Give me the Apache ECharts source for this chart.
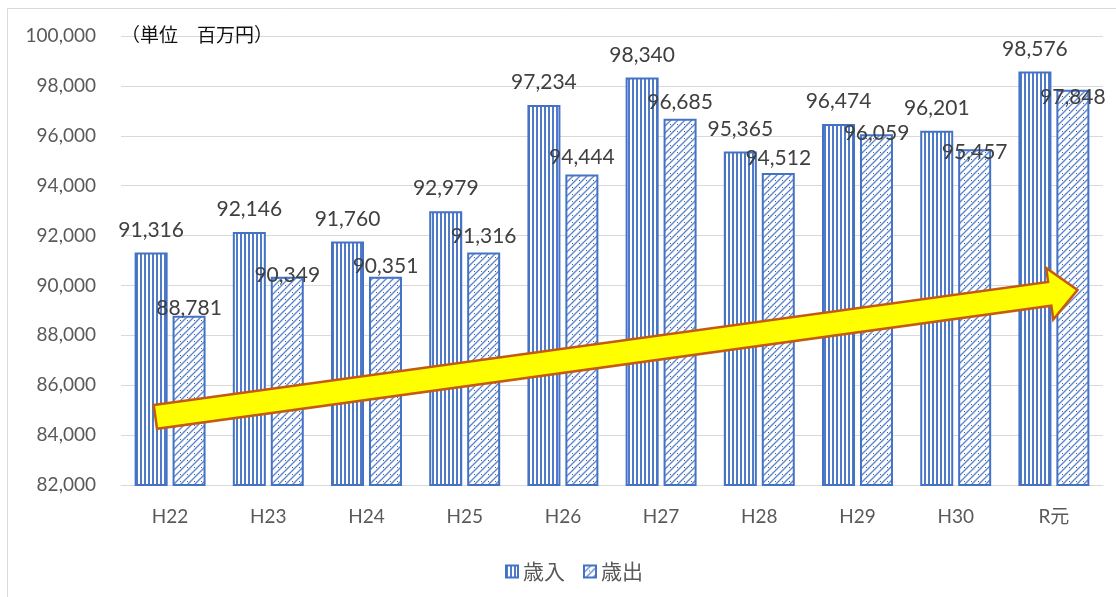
<!DOCTYPE html>
<html>
<head>
<meta charset="utf-8">
<script src="https://cdn.jsdelivr.net/npm/echarts@6/dist/echarts.min.js"></script>
<style>
  html, body { margin: 0; padding: 0; background: #fff; }
  #main { width: 1116px; height: 597px; }
</style>
</head>
<body>
<div id="main"></div>
<script>
  // 年度
  var years = ['H22', 'H23', 'H24', 'H25', 'H26', 'H27', 'H28', 'H29', 'H30', 'R元']
  // 歳入・歳出 (百万円)
  var revenue = [91316, 92146, 91760, 92979, 97234, 98340, 95365, 96474, 96201, 98576]
  var expenditure = [88781, 90349, 90351, 91316, 94444, 96685, 94512, 96059, 95457, 97848]
  // 歳出ラベルの位置調整 (棒の上端からラベル中心までのpx)
  var expLabelLift = [8, 2, 11, 17, 18, 17, 15, 2, -2, -7]
  // 矢印の始点・終点 (カテゴリ位置, 値)
  var arrowFrom = [-0.15, 84730]
  var arrowTo = [9.24, 89820]

  var numFont = 'Lato, "Noto Sans CJK JP", sans-serif'
  var cjkFont = '"Noto Sans CJK JP", sans-serif'

  function stripePattern () {
    var c = document.createElement('canvas')
    c.width = 4
    c.height = 4
    var g = c.getContext('2d')
    g.fillStyle = '#ffffff'
    g.fillRect(0, 0, 4, 4)
    g.fillStyle = '#4f7bc8'
    g.fillRect(0, 0, 2, 4)
    return c
  }

  function hatchPattern () {
    var s = 7
    var c = document.createElement('canvas')
    c.width = s
    c.height = s
    var g = c.getContext('2d')
    g.fillStyle = '#ffffff'
    g.fillRect(0, 0, s, s)
    g.strokeStyle = '#5f86cf'
    g.lineWidth = 1.4
    g.beginPath()
    g.moveTo(0, s); g.lineTo(s, 0)
    g.moveTo(-1, 1); g.lineTo(1, -1)
    g.moveTo(s - 1, s + 1); g.lineTo(s + 1, s - 1)
    g.stroke()
    g.fillStyle = '#3e64ad'
    g.fillRect(5, 5, 1, 1)
    return c
  }

  var chart = echarts.init(document.getElementById('main'))

  var option = {
    animation: false,
    title: {
      text: '（単位　百万円）',
      left: 116,
      top: 20,
      textStyle: { fontFamily: cjkFont, fontSize: 19, fontWeight: 'normal', color: '#111' }
    },
    legend: {
      left: 500,
      top: 556,
      icon: 'rect',
      itemWidth: 12,
      itemHeight: 12,
      itemGap: 18,
      textStyle: { fontFamily: cjkFont, fontSize: 21, color: '#595959' },
      data: ['歳入', '歳出']
    },
    grid: { left: 121, right: 13, top: 36, bottom: 112 },
    xAxis: {
      type: 'category',
      data: years,
      axisLine: { lineStyle: { color: '#d9d9d9', width: 1 } },
      axisTick: { show: false },
      axisLabel: { margin: 22, fontFamily: numFont, fontSize: 19, color: '#595959' }
    },
    yAxis: {
      type: 'value',
      min: 82000,
      max: 100000,
      interval: 2000,
      axisLine: { show: false },
      axisTick: { show: false },
      splitLine: { lineStyle: { color: '#d9d9d9' } },
      axisLabel: {
        margin: 25,
        fontFamily: numFont,
        fontSize: 19,
        color: '#595959',
        formatter: function (v) { return v.toLocaleString('en-US') }
      }
    },
    series: [
      {
        name: '歳入',
        type: 'bar',
        barWidth: 33,
        barGap: '15%',
        data: revenue,
        itemStyle: {
          color: { image: stripePattern(), repeat: 'repeat' },
          borderColor: '#4472c4',
          borderWidth: 2
        },
        label: {
          show: true,
          position: 'top',
          distance: 12,
          fontFamily: numFont,
          fontSize: 21,
          color: '#404040',
          formatter: function (p) { return p.value.toLocaleString('en-US') }
        }
      },
      {
        name: '歳出',
        type: 'bar',
        barWidth: 33,
        data: expenditure.map(function (v, i) {
          return { value: v, label: { offset: [0, 11 - expLabelLift[i]] } }
        }),
        itemStyle: {
          color: { image: hatchPattern(), repeat: 'repeat' },
          borderColor: '#4472c4',
          borderWidth: 2
        },
        label: {
          show: true,
          position: 'top',
          distance: 0,
          fontFamily: numFont,
          fontSize: 21,
          color: '#404040',
          formatter: function (p) { return p.value.toLocaleString('en-US') }
        }
      }
    ]
  }
  chart.setOption(option)

  // 矢印を描く (データ座標からピクセルへ変換)
  function toPx (pt) {
    var p0 = chart.convertToPixel({ gridIndex: 0 }, [0, pt[1]])
    var p1 = chart.convertToPixel({ gridIndex: 0 }, [1, pt[1]])
    return [p0[0] + (p1[0] - p0[0]) * pt[0], p0[1]]
  }
  var S = toPx(arrowFrom)
  var T = toPx(arrowTo)
  var dx = T[0] - S[0], dy = T[1] - S[1]
  var len = Math.sqrt(dx * dx + dy * dy)
  var u = [dx / len, dy / len]
  var n = [-u[1], u[0]]
  var half = 12, headHalf = 26, headLen = 28
  var B = [T[0] - u[0] * headLen, T[1] - u[1] * headLen]
  function off (p, k) { return [p[0] + n[0] * k, p[1] + n[1] * k] }
  var arrowPts = [off(S, -half), off(B, -half), off(B, -headHalf), T, off(B, headHalf), off(B, half), off(S, half)]

  chart.setOption({
    graphic: [
      {
        type: 'rect',
        z: -10,
        shape: { x: 7.5, y: 8.5, width: 1200, height: 700 },
        style: { fill: 'none', stroke: '#d9d9d9', lineWidth: 1 }
      },
      {
        type: 'polygon',
        z: 100,
        shape: { points: arrowPts },
        style: { fill: '#ffff00', stroke: '#c55a11', lineWidth: 2.5, lineJoin: 'miter' }
      }
    ]
  })

  window.addEventListener('resize', function () {
    chart.resize()
  })
</script>
</body>
</html>
